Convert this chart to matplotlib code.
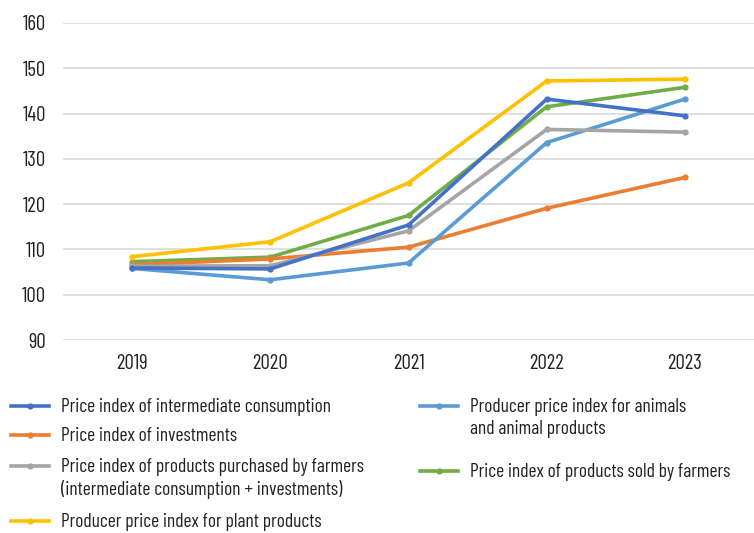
import matplotlib.pyplot as plt
from matplotlib.lines import Line2D

plt.rcParams['font.family'] = ['Barlow Condensed', 'DejaVu Sans']

# ----- data -----
years = ['2019', '2020', '2021', '2022', '2023']

intermediate = [105.9, 105.7, 115.4, 143.2, 139.5]
investments = [106.6, 107.9, 110.5, 119.1, 125.9]
purchased = [106.3, 106.4, 114.1, 136.5, 135.9]
plant = [108.4, 111.7, 124.7, 147.2, 147.6]
sold = [107.3, 108.3, 117.5, 141.5, 145.8]
animals = [105.8, 103.3, 107.0, 133.6, 143.2]

labels = [
    'Price index of intermediate consumption',
    'Price index of investments',
    'Price index of products purchased by farmers\n(intermediate consumption + investments)',
    'Producer price index for plant products',
    'Producer price index for animals\nand animal products',
    'Price index of products sold by farmers',
]
colors = ['#4472c4', '#ed7d31', '#a5a5a5', '#ffc000', '#5b9bd5', '#70ad47']
series = [intermediate, investments, purchased, plant, animals, sold]

# drawing order (back to front)
draw_order = [5, 1, 4, 2, 0, 3]

# ----- plot -----
fig = plt.figure(figsize=(7.54, 5.33), dpi=100)
ax = fig.add_axes([63 / 754, 1 - 340 / 533, 1 - 63 / 754, (340 - 23) / 533])

x = range(len(years))
for i in draw_order:
    ax.plot(x, series[i], color=colors[i], linewidth=2.6,
            marker='o', markersize=3.5, solid_capstyle='round')

ax.set_xlim(-0.5, len(years) - 0.5)
ax.set_ylim(90, 160)
ax.set_yticks(range(90, 161, 10))
ax.set_xticks(list(x))
ax.set_xticklabels(years)
ax.grid(axis='y', color='#d9d9d9', linewidth=1.2)
ax.set_axisbelow(True)
for s in ax.spines.values():
    s.set_visible(False)
ax.tick_params(length=0, labelsize=15, colors='#222222')
ax.tick_params(axis='y', pad=12)
ax.tick_params(axis='x', pad=10)

# ----- legend (manual, two columns) -----
# (x of handle start, y of first text line) in pixels
leg_pos = [(11, 406), (11, 435), (11, 466), (11, 521), (420, 406), (420, 471)]
W, H = 754, 533
for (px, py), lab, c in zip(leg_pos, labels, colors):
    fy = 1 - py / H
    fig.add_artist(Line2D([px / W, (px + 38) / W], [fy, fy], color=c,
                          linewidth=2.6, transform=fig.transFigure))
    fig.add_artist(Line2D([(px + 19) / W], [fy], color=c, marker='o',
                          markersize=3.5, transform=fig.transFigure))
    fig.text((px + 50) / W, fy + 8 / H, lab, fontsize=14, color='#222222',
             va='top', ha='left', linespacing=1.27,
             transform=fig.transFigure)

fig.savefig('out.png', dpi=100)
